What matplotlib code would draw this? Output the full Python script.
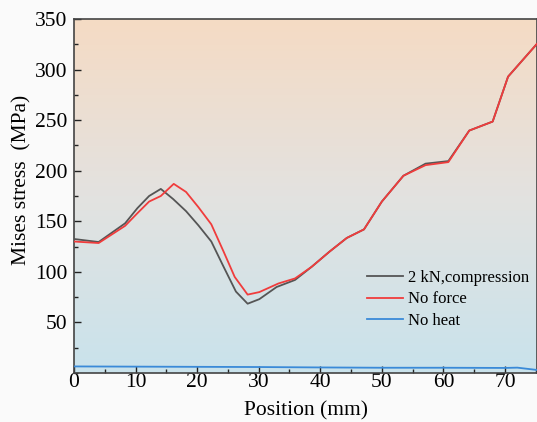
import numpy as np
import matplotlib
matplotlib.use('Agg')
import matplotlib.pyplot as plt
from matplotlib.colors import LinearSegmentedColormap
from matplotlib.ticker import MultipleLocator

# positions (mm) and Mises stress (MPa)
pos_comp = [0, 4, 8.3, 10.3, 12.2, 14.1, 16.1, 18.2, 20.2, 22.3, 24.3, 26.3, 28.2, 30.1,
            32.9, 35.9, 38.6, 41.5, 44.3, 47.1, 50, 53.5, 57.1, 60.8, 64.2, 68, 70.5, 75.2]
stress_comp = [132.5, 129.5, 148, 163, 175, 182, 172, 160, 146, 130, 105, 80.5, 68.5, 73,
               85, 92, 105, 120, 133.5, 142, 169.5, 195, 207, 209.5, 239.7, 248.6, 293, 325.5]

pos_nf = [0, 4, 8.3, 10.3, 12.2, 14.1, 16.2, 18.2, 20.2, 22.3, 24.3, 26.1, 28.2, 30.1,
          33.2, 35.9, 38.6, 41.5, 44.3, 47.1, 50, 53.5, 57.1, 60.8, 64.2, 68, 70.5, 75.2]
stress_nf = [130, 128.5, 145.5, 158, 169.5, 175, 187, 179, 164, 147, 120, 95, 77.5, 80,
             88.5, 93.5, 105, 120, 133.5, 142, 169.5, 195, 205.5, 208.5, 239.7, 248.6, 293, 325.5]

pos_nh = [0, 10, 20, 30, 40, 50, 60, 70, 72, 75.2]
stress_nh = [6.5, 6.3, 6.1, 5.9, 5.5, 5.2, 5.2, 5.0, 5.3, 3.0]

plt.rcParams['font.family'] = ['Liberation Serif', 'DejaVu Serif']

fig = plt.figure(figsize=(5.37, 4.22), dpi=100, facecolor='#fafafa')
ax = fig.add_axes([74 / 537, 1 - 373 / 422, 463 / 537, 354 / 422])

# gradient background
cmap = LinearSegmentedColormap.from_list(
    'bg', [(0, '#c9e3ec'), (0.5, '#e3e2e0'), (1, '#f5dbc4')])
grad = np.linspace(0, 1, 256).reshape(-1, 1)
ax.imshow(grad, cmap=cmap, aspect='auto', origin='lower',
          extent=[0, 75.2, 0, 350], zorder=0)

ax.plot(pos_comp, stress_comp, color='#555555', lw=1.3, label='2 kN,compression', zorder=3)
ax.plot(pos_nf, stress_nf, color='#f03c3c', lw=1.3, label='No force', zorder=4)
ax.plot(pos_nh, stress_nh, color='#3a8ad8', lw=1.3, label='No heat', zorder=3)

ax.set_xlim(0, 75.2)
ax.set_ylim(0, 350)
ax.xaxis.set_major_locator(MultipleLocator(10))
ax.xaxis.set_minor_locator(MultipleLocator(5))
ax.yaxis.set_major_locator(MultipleLocator(50))
ax.yaxis.set_minor_locator(MultipleLocator(25))
ax.tick_params(which='both', direction='in', labelsize=15.5, color='#222222')
ax.tick_params(which='major', length=5, width=1)
ax.tick_params(which='minor', length=3, width=1)
ax.tick_params(axis='x', pad=0)
ax.tick_params(axis='y', pad=5)
ax.set_yticks([50, 100, 150, 200, 250, 300, 350])
for s in ax.spines.values():
    s.set_color('#444444')
    s.set_linewidth(1.2)

ax.set_xlabel('Position (mm)', fontsize=15.5, labelpad=7)
ax.set_ylabel('Mises stress  (MPa)', fontsize=15.5)
ax.yaxis.set_label_coords(-0.091, 0.545)

ax.legend(loc='lower right', bbox_to_anchor=(1.0, 0.1), frameon=False, fontsize=12,
          handlelength=2.2, handletextpad=0.25, labelspacing=0.35, borderaxespad=0.1)

fig.savefig('out.png', dpi=100, facecolor=fig.get_facecolor())
